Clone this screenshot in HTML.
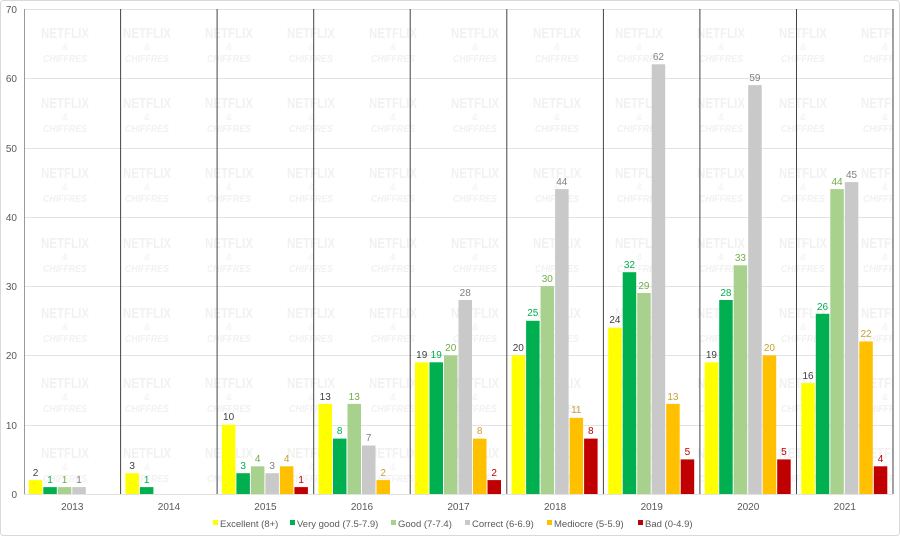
<!DOCTYPE html>
<html><head><meta charset="utf-8"><style>
html,body{margin:0;padding:0;background:#fff}
svg{display:block;font-family:"Liberation Sans",sans-serif}
.v{font-size:10px;text-anchor:middle}
.ax{font-size:10px;fill:#595959}
.lg{font-size:9.5px;fill:#595959}
</style></head><body>
<svg width="900" height="536" viewBox="0 0 900 536">
<defs>
<pattern id="wm" x="24" y="0" width="82" height="70" patternUnits="userSpaceOnUse">
<text x="17" y="38" font-size="15" font-weight="bold" fill="#f1f1f1" textLength="48" lengthAdjust="spacingAndGlyphs">NETFLIX</text>
<text x="41" y="50" text-anchor="middle" font-size="9" font-style="italic" fill="#f1f1f1">&amp;</text>
<text x="19" y="62" font-size="10" font-style="italic" font-weight="bold" fill="#f1f1f1" textLength="44" lengthAdjust="spacingAndGlyphs">CHIFFRES</text>
</pattern>
</defs>
<rect x="0.5" y="0.5" width="899" height="535" rx="3" fill="#fff" stroke="#d9d9d9"/>
<rect x="24" y="9" width="869" height="485" fill="url(#wm)"/>
<g stroke="#e3e3e3" stroke-width="1">
<line x1="24" x2="893" y1="9.5" y2="9.5"/><line x1="24" x2="893" y1="78.5" y2="78.5"/>
<line x1="24" x2="893" y1="148.5" y2="148.5"/><line x1="24" x2="893" y1="217.5" y2="217.5"/>
<line x1="24" x2="893" y1="286.5" y2="286.5"/><line x1="24" x2="893" y1="355.5" y2="355.5"/>
<line x1="24" x2="893" y1="425.5" y2="425.5"/><line x1="24" x2="893" y1="494.5" y2="494.5"/>
</g>
<g class="ax" text-anchor="end">
<text x="17" y="13">70</text><text x="17" y="82">60</text><text x="17" y="152">50</text>
<text x="17" y="221">40</text><text x="17" y="290">30</text><text x="17" y="359">20</text>
<text x="17" y="429">10</text><text x="17" y="498">0</text>
</g>
<g stroke="#444" stroke-width="1">
<line x1="24.5" x2="24.5" y1="9" y2="494" stroke="#999"/>
<line x1="120.6" x2="120.6" y1="9" y2="494"/><line x1="217.1" x2="217.1" y1="9" y2="494"/>
<line x1="313.7" x2="313.7" y1="9" y2="494"/><line x1="410.2" x2="410.2" y1="9" y2="494"/>
<line x1="506.8" x2="506.8" y1="9" y2="494"/><line x1="603.4" x2="603.4" y1="9" y2="494"/>
<line x1="699.9" x2="699.9" y1="9" y2="494"/><line x1="796.5" x2="796.5" y1="9" y2="494"/>
<line x1="893" x2="893" y1="9" y2="494"/>
</g>
<g transform="translate(24,0)">
<rect x="4.8" y="480.1" width="13.5" height="13.9" fill="#FFFF00"/><text class="v" x="11.5" y="476" fill="#404040">2</text>
<rect x="19.3" y="487.1" width="13.5" height="6.9" fill="#00B050"/><text class="v" x="26" y="483" fill="#00B050">1</text>
<rect x="33.8" y="487.1" width="13.5" height="6.9" fill="#A9D18E"/><text class="v" x="40.5" y="483" fill="#70AD47">1</text>
<rect x="48.3" y="487.1" width="13.5" height="6.9" fill="#C9C9C9"/><text class="v" x="55" y="483" fill="#808080">1</text>
</g>
<g transform="translate(120.6,0)">
<rect x="4.8" y="473.2" width="13.5" height="20.8" fill="#FFFF00"/><text class="v" x="11.5" y="469" fill="#404040">3</text>
<rect x="19.3" y="487.1" width="13.5" height="6.9" fill="#00B050"/><text class="v" x="26" y="483" fill="#00B050">1</text>
</g>
<g transform="translate(217.1,0)">
<rect x="4.8" y="424.7" width="13.5" height="69.3" fill="#FFFF00"/><text class="v" x="11.5" y="420" fill="#404040">10</text>
<rect x="19.3" y="473.2" width="13.5" height="20.8" fill="#00B050"/><text class="v" x="26" y="469" fill="#00B050">3</text>
<rect x="33.8" y="466.3" width="13.5" height="27.7" fill="#A9D18E"/><text class="v" x="40.5" y="462" fill="#70AD47">4</text>
<rect x="48.3" y="473.2" width="13.5" height="20.8" fill="#C9C9C9"/><text class="v" x="55" y="469" fill="#808080">3</text>
<rect x="62.8" y="466.3" width="13.5" height="27.7" fill="#FFC000"/><text class="v" x="69.5" y="462" fill="#C9A030">4</text>
<rect x="77.3" y="487.1" width="13.5" height="6.9" fill="#C00000"/><text class="v" x="84" y="483" fill="#C00000">1</text>
</g>
<g transform="translate(313.7,0)">
<rect x="4.8" y="403.9" width="13.5" height="90.1" fill="#FFFF00"/><text class="v" x="11.5" y="400" fill="#404040">13</text>
<rect x="19.3" y="438.6" width="13.5" height="55.4" fill="#00B050"/><text class="v" x="26" y="434" fill="#00B050">8</text>
<rect x="33.8" y="403.9" width="13.5" height="90.1" fill="#A9D18E"/><text class="v" x="40.5" y="400" fill="#70AD47">13</text>
<rect x="48.3" y="445.5" width="13.5" height="48.5" fill="#C9C9C9"/><text class="v" x="55" y="441" fill="#808080">7</text>
<rect x="62.8" y="480.1" width="13.5" height="13.9" fill="#FFC000"/><text class="v" x="69.5" y="476" fill="#C9A030">2</text>
</g>
<g transform="translate(410.2,0)">
<rect x="4.8" y="362.3" width="13.5" height="131.7" fill="#FFFF00"/><text class="v" x="11.5" y="358" fill="#404040">19</text>
<rect x="19.3" y="362.3" width="13.5" height="131.7" fill="#00B050"/><text class="v" x="26" y="358" fill="#00B050">19</text>
<rect x="33.8" y="355.4" width="13.5" height="138.6" fill="#A9D18E"/><text class="v" x="40.5" y="351" fill="#70AD47">20</text>
<rect x="48.3" y="300" width="13.5" height="194" fill="#C9C9C9"/><text class="v" x="55" y="296" fill="#808080">28</text>
<rect x="62.8" y="438.6" width="13.5" height="55.4" fill="#FFC000"/><text class="v" x="69.5" y="434" fill="#C9A030">8</text>
<rect x="77.3" y="480.1" width="13.5" height="13.9" fill="#C00000"/><text class="v" x="84" y="476" fill="#C00000">2</text>
</g>
<g transform="translate(506.8,0)">
<rect x="4.8" y="355.4" width="13.5" height="138.6" fill="#FFFF00"/><text class="v" x="11.5" y="351" fill="#404040">20</text>
<rect x="19.3" y="320.8" width="13.5" height="173.2" fill="#00B050"/><text class="v" x="26" y="316" fill="#00B050">25</text>
<rect x="33.8" y="286.1" width="13.5" height="207.9" fill="#A9D18E"/><text class="v" x="40.5" y="282" fill="#70AD47">30</text>
<rect x="48.3" y="189.1" width="13.5" height="304.9" fill="#C9C9C9"/><text class="v" x="55" y="185" fill="#808080">44</text>
<rect x="62.8" y="417.8" width="13.5" height="76.2" fill="#FFC000"/><text class="v" x="69.5" y="413" fill="#C9A030">11</text>
<rect x="77.3" y="438.6" width="13.5" height="55.4" fill="#C00000"/><text class="v" x="84" y="434" fill="#C00000">8</text>
</g>
<g transform="translate(603.4,0)">
<rect x="4.8" y="327.7" width="13.5" height="166.3" fill="#FFFF00"/><text class="v" x="11.5" y="323" fill="#404040">24</text>
<rect x="19.3" y="272.2" width="13.5" height="221.8" fill="#00B050"/><text class="v" x="26" y="268" fill="#00B050">32</text>
<rect x="33.8" y="293" width="13.5" height="201" fill="#A9D18E"/><text class="v" x="40.5" y="289" fill="#70AD47">29</text>
<rect x="48.3" y="64.3" width="13.5" height="429.7" fill="#C9C9C9"/><text class="v" x="55" y="60" fill="#808080">62</text>
<rect x="62.8" y="403.9" width="13.5" height="90.1" fill="#FFC000"/><text class="v" x="69.5" y="400" fill="#C9A030">13</text>
<rect x="77.3" y="459.4" width="13.5" height="34.6" fill="#C00000"/><text class="v" x="84" y="455" fill="#C00000">5</text>
</g>
<g transform="translate(699.9,0)">
<rect x="4.8" y="362.3" width="13.5" height="131.7" fill="#FFFF00"/><text class="v" x="11.5" y="358" fill="#404040">19</text>
<rect x="19.3" y="300" width="13.5" height="194" fill="#00B050"/><text class="v" x="26" y="296" fill="#00B050">28</text>
<rect x="33.8" y="265.3" width="13.5" height="228.7" fill="#A9D18E"/><text class="v" x="40.5" y="261" fill="#70AD47">33</text>
<rect x="48.3" y="85.1" width="13.5" height="408.9" fill="#C9C9C9"/><text class="v" x="55" y="81" fill="#808080">59</text>
<rect x="62.8" y="355.4" width="13.5" height="138.6" fill="#FFC000"/><text class="v" x="69.5" y="351" fill="#C9A030">20</text>
<rect x="77.3" y="459.4" width="13.5" height="34.6" fill="#C00000"/><text class="v" x="84" y="455" fill="#C00000">5</text>
</g>
<g transform="translate(796.5,0)">
<rect x="4.8" y="383.1" width="13.5" height="110.9" fill="#FFFF00"/><text class="v" x="11.5" y="379" fill="#404040">16</text>
<rect x="19.3" y="313.8" width="13.5" height="180.2" fill="#00B050"/><text class="v" x="26" y="310" fill="#00B050">26</text>
<rect x="33.8" y="189.1" width="13.5" height="304.9" fill="#A9D18E"/><text class="v" x="40.5" y="185" fill="#70AD47">44</text>
<rect x="48.3" y="182.1" width="13.5" height="311.9" fill="#C9C9C9"/><text class="v" x="55" y="178" fill="#808080">45</text>
<rect x="62.8" y="341.5" width="13.5" height="152.5" fill="#FFC000"/><text class="v" x="69.5" y="337" fill="#C9A030">22</text>
<rect x="77.3" y="466.3" width="13.5" height="27.7" fill="#C00000"/><text class="v" x="84" y="462" fill="#C00000">4</text>
</g>
<g class="ax" text-anchor="middle">
<text x="72.3" y="510">2013</text><text x="168.9" y="510">2014</text><text x="265.4" y="510">2015</text>
<text x="362" y="510">2016</text><text x="458.5" y="510">2017</text><text x="555.1" y="510">2018</text>
<text x="651.7" y="510">2019</text><text x="748.2" y="510">2020</text><text x="844.8" y="510">2021</text>
</g>
<g class="lg">
<rect x="213" y="520" width="5" height="5" fill="#FFFF00"/><text x="220" y="527">Excellent (8+)</text>
<rect x="290" y="520" width="5" height="5" fill="#00B050"/><text x="297" y="527">Very good (7.5-7.9)</text>
<rect x="391" y="520" width="5" height="5" fill="#A9D18E"/><text x="398" y="527">Good (7-7.4)</text>
<rect x="465" y="520" width="5" height="5" fill="#C9C9C9"/><text x="472" y="527">Correct (6-6.9)</text>
<rect x="547" y="520" width="5" height="5" fill="#FFC000"/><text x="554" y="527">Mediocre (5-5.9)</text>
<rect x="638" y="520" width="5" height="5" fill="#C00000"/><text x="645" y="527">Bad (0-4.9)</text>
</g>
</svg>
</body></html>
